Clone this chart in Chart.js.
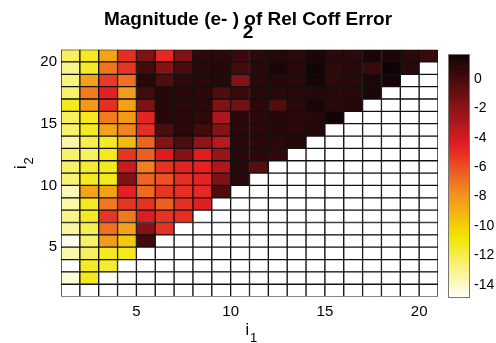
<!DOCTYPE html>
<html>
<head>
<meta charset="utf-8">
<script src="https://cdn.jsdelivr.net/npm/chart.js@4.4.1/dist/chart.umd.min.js"></script>
<style>
  html, body { margin: 0; padding: 0; background: #fff; }
  #wrap { position: relative; width: 496px; height: 343px; }
  #heat { position: absolute; left: 0; top: 0; }
  #bar { position: absolute; left: 440px; top: 0; }
</style>
</head>
<body>
<div id="wrap">
  <canvas id="heat" width="496" height="343"></canvas>
  <canvas id="bar" width="56" height="343"></canvas>
</div>
<script>
// exponent of the relative coefficient error, one row per i2 (top row first),
// one entry per i1 starting at i1 = 1; cells past the end of a row are empty
var i1Cols = [1, 2, 3, 4, 5, 6, 7, 8, 9, 10, 11, 12, 13, 14, 15, 16, 17, 18, 19, 20];
var i2Rows = [20, 19, 18, 17, 16, 15, 14, 13, 12, 11, 10, 9, 8, 7, 6, 5, 4, 3, 2, 1];
var errRows = [
  [-12.3, -11.3, -8.5, -5.0, -1.6, -4.8, -1.7, 0.8, 0.8, 0.3, 0.8, 0.9, 0.8, 1.2, 0.8, 0.8, 1.3, 1.2, 0.8, 0.4],
  [-13.0, -11.3, -7.0, -5.2, 0.1, -1.8, -0.1, 0.8, 0.9, 0.1, 0.8, 1.3, 0.8, 1.5, 0.7, 0.8, 0.4, 1.6, 0.8],
  [-12.8, -8.4, -5.3, -6.9, 0.9, -0.3, 0.7, 0.8, 0.9, -1.8, 0.8, 0.9, 0.8, 1.4, 0.7, 0.8, 1.2, 1.4],
  [-12.5, -7.2, -4.6, -8.2, 0.1, 0.9, 0.8, 0.8, -0.3, 0.3, 0.8, 0.8, 0.8, 0.9, 0.8, 0.8, 1.3],
  [-11.2, -8.1, -5.0, -8.4, -1.6, 0.9, 0.8, 0.8, -1.6, -1.3, 0.8, -0.3, 0.8, 1.3, 0.8, 0.9],
  [-12.3, -11.2, -7.2, -8.1, -4.7, 0.9, 0.8, 0.7, -2.9, 0.8, 0.8, 0.9, 0.8, 0.9, 1.5],
  [-12.5, -11.3, -8.5, -7.4, -5.0, -0.1, 0.8, 0.1, -1.8, 0.8, 0.8, 0.9, 0.8, 1.0],
  [-13.5, -12.0, -11.3, -9.3, -6.5, -1.8, -0.2, -2.2, -3.3, 0.8, 0.8, 0.8, 0.9],
  [-12.5, -12.3, -11.2, -5.2, -6.4, -4.3, -1.8, -4.4, -2.3, 0.8, 0.8, 0.6],
  [-12.5, -11.6, -11.2, -3.8, -7.3, -5.1, -4.7, -4.6, -3.0, 0.8, -0.5],
  [-12.7, -11.3, -11.2, -1.6, -6.5, -6.0, -5.0, -4.7, -1.6, 0.8],
  [-13.8, -8.5, -8.4, -4.6, -6.7, -5.2, -5.0, -4.8, -0.2],
  [-13.5, -11.2, -7.1, -5.2, -5.1, -6.4, -5.0, -4.5],
  [-13.0, -11.3, -5.2, -7.1, -4.3, -5.1, -5.0],
  [-13.4, -12.0, -6.9, -8.4, -1.8, -5.1],
  [-14.6, -12.5, -8.2, -9.8, 0.1],
  [-13.6, -12.3, -11.3, -11.2],
  [-14.9, -11.4, -11.6],
  [-14.3, -11.2],
  [-14.9]
];

var axisTicks = [5, 10, 15, 20];
var barTicks = [0, -2, -4, -6, -8, -10, -12, -14];
var titleLines = ['Magnitude (e- ) of Rel Coff Error', '2'];
var xTitle = ['i', '1'];
var yTitle = ['i', '2'];

// colour limits and a reversed "hot" map: black -> red -> yellow -> white
var cMin = -14.9, cMax = 1.7;
var mapStops = [
  [0, [12, 4, 4]],
  [0.375, [227, 30, 36]],
  [0.5625, [244, 138, 31]],
  [0.75, [242, 230, 0]],
  [1, [255, 255, 255]]
];

function colourFor(v) {
  var s = (cMax - v) / (cMax - cMin);
  s = Math.min(1, Math.max(0, s));
  for (var k = 1; k < mapStops.length; k++) {
    if (s <= mapStops[k][0]) {
      var a = mapStops[k - 1], b = mapStops[k];
      var f = (s - a[0]) / (b[0] - a[0]);
      var c = a[1].map(function (ch, j) { return Math.round(ch + (b[1][j] - ch) * f); });
      return 'rgb(' + c.join(',') + ')';
    }
  }
  return '#fff';
}

var FONT = '"Liberation Sans", Arial, Helvetica, sans-serif';
Chart.defaults.font.family = FONT;
Chart.defaults.color = '#000';

// one floating bar per cell, spanning [i1, i1+1] x [i2, i2+1]
var cells = [];
i2Rows.forEach(function (i2, r) {
  i1Cols.forEach(function (i1, c) {
    var v = errRows[r][c];
    cells.push({ x: i1 + 0.5, y: [i2, i2 + 1], v: v === undefined ? null : v });
  });
});

// two-line bold title over the whole figure, and i with a subscript index on each axis
var figureText = {
  id: 'figureText',
  afterDraw: function (chart) {
    var ctx = chart.ctx, area = chart.chartArea;
    var cx = (area.left + area.right) / 2;
    var cy = (area.top + area.bottom) / 2;
    ctx.save();
    ctx.fillStyle = '#000';
    ctx.textBaseline = 'alphabetic';

    ctx.textAlign = 'center';
    ctx.font = 'bold 19px ' + FONT;
    ctx.fillText(titleLines[0], 248, 25);
    ctx.fillText(titleLines[1], 248, 38);

    ctx.textAlign = 'left';
    ctx.font = '16px ' + FONT;
    ctx.fillText(xTitle[0], cx - 4, 335);
    ctx.font = '13px ' + FONT;
    ctx.fillText(xTitle[1], cx + 0.5, 342);

    ctx.translate(26, cy - 4);
    ctx.rotate(-Math.PI / 2);
    ctx.font = '16px ' + FONT;
    ctx.fillText(yTitle[0], 0, 0);
    ctx.font = '13px ' + FONT;
    ctx.fillText(yTitle[1], 4.5, 7);
    ctx.restore();
  }
};

new Chart(document.getElementById('heat').getContext('2d'), {
  type: 'bar',
  data: {
    datasets: [{
      data: cells,
      backgroundColor: function (ctx) {
        var raw = ctx.raw;
        return raw && raw.v !== null ? colourFor(raw.v) : '#fff';
      },
      borderColor: '#111',
      borderWidth: 1,
      borderSkipped: false,
      barPercentage: 1,
      categoryPercentage: 1
    }]
  },
  options: {
    responsive: false,
    animation: false,
    devicePixelRatio: 1,
    layout: { padding: { top: 49.6, right: 58, bottom: 0, left: 0 } },
    plugins: {
      legend: { display: false },
      tooltip: { enabled: false },
      title: { display: false }
    },
    scales: {
      x: {
        type: 'linear',
        min: 1,
        max: 21,
        offset: false,
        grid: { display: false, offset: false, drawTicks: false },
        border: { display: false },
        afterBuildTicks: function (scale) {
          scale.ticks = axisTicks.map(function (v) { return { value: v }; });
        },
        afterFit: function (scale) { scale.height = 46.4; },
        ticks: { font: { size: 15 }, padding: 6, maxRotation: 0 }
      },
      y: {
        type: 'linear',
        min: 1,
        max: 21,
        grid: { display: false, drawTicks: false },
        border: { display: false },
        afterBuildTicks: function (scale) {
          scale.ticks = axisTicks.map(function (v) { return { value: v }; });
        },
        afterFit: function (scale) { scale.width = 61; },
        ticks: { font: { size: 15 }, padding: 4 }
      }
    }
  },
  plugins: [figureText]
});

// colour bar: 64 strips of the same map between the colour limits
var levels = 64;
var strips = [];
for (var k = 0; k < levels; k++) {
  var lo = cMin + (cMax - cMin) * k / levels;
  var hi = cMin + (cMax - cMin) * (k + 1) / levels;
  strips.push({ x: 'cb', y: [lo, hi], v: (lo + hi) / 2 });
}

var barFrame = {
  id: 'barFrame',
  afterDatasetsDraw: function (chart) {
    var ctx = chart.ctx, a = chart.chartArea;
    ctx.save();
    ctx.strokeStyle = '#777';
    ctx.lineWidth = 1;
    ctx.strokeRect(Math.round(a.left) + 0.5, Math.round(a.top) + 0.5,
      Math.round(a.right - a.left) - 1, Math.round(a.bottom - a.top) - 1);
    ctx.restore();
  }
};

new Chart(document.getElementById('bar').getContext('2d'), {
  type: 'bar',
  data: {
    labels: ['cb'],
    datasets: [{
      data: strips,
      backgroundColor: function (ctx) { return colourFor(ctx.raw.v); },
      borderWidth: 0,
      barPercentage: 1,
      categoryPercentage: 1
    }]
  },
  options: {
    responsive: false,
    animation: false,
    devicePixelRatio: 1,
    layout: { padding: { top: 54, right: 0, bottom: 45, left: 8 } },
    plugins: { legend: { display: false }, tooltip: { enabled: false } },
    scales: {
      x: { display: false },
      y: {
        type: 'linear',
        position: 'right',
        min: cMin,
        max: cMax,
        grid: { display: false, drawTicks: false },
        border: { display: false },
        afterBuildTicks: function (scale) {
          scale.ticks = barTicks.map(function (v) { return { value: v }; });
        },
        afterFit: function (scale) { scale.width = 26; },
        ticks: { font: { size: 14 }, padding: 4 }
      }
    }
  },
  plugins: [barFrame]
});
</script>
</body>
</html>
